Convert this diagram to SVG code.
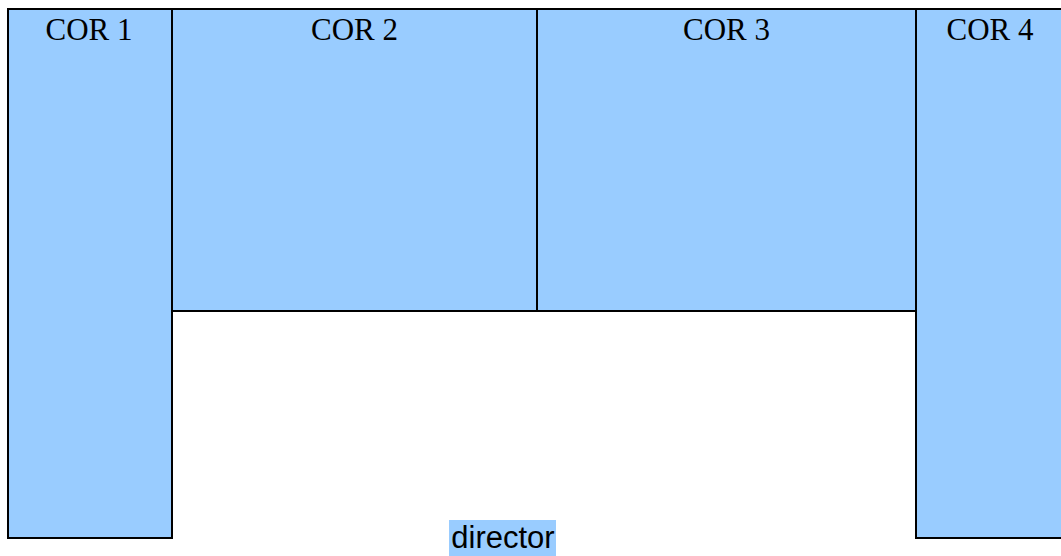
<svg xmlns="http://www.w3.org/2000/svg" width="1061" height="556" viewBox="0 0 1061 556">
<style>
.room{fill:#99ccff;stroke:#000;stroke-width:2}
.lbl{font-family:"Liberation Serif",serif;font-size:31px;fill:#000;text-anchor:middle}
.dir{font-family:"Liberation Sans",sans-serif;font-size:31px;fill:#000;text-anchor:middle}
</style>
<rect width="1061" height="556" fill="#fff"/>
<g id="cor1"><rect class="room" x="8" y="9" width="164" height="529"/><text class="lbl" x="89" y="40">COR 1</text></g>
<g id="cor2"><rect class="room" x="172" y="9" width="365" height="302"/><text class="lbl" x="354.5" y="40">COR 2</text></g>
<g id="cor3"><rect class="room" x="537" y="9" width="379" height="302"/><text class="lbl" x="726.5" y="40">COR 3</text></g>
<g id="cor4"><rect class="room" x="916" y="9" width="150" height="529"/><text class="lbl" x="990" y="40">COR 4</text></g>
<g id="director"><rect x="449" y="520" width="107" height="40" fill="#99ccff"/><text class="dir" x="503" y="548">director</text></g>
<g id="connectors"/>
</svg>
